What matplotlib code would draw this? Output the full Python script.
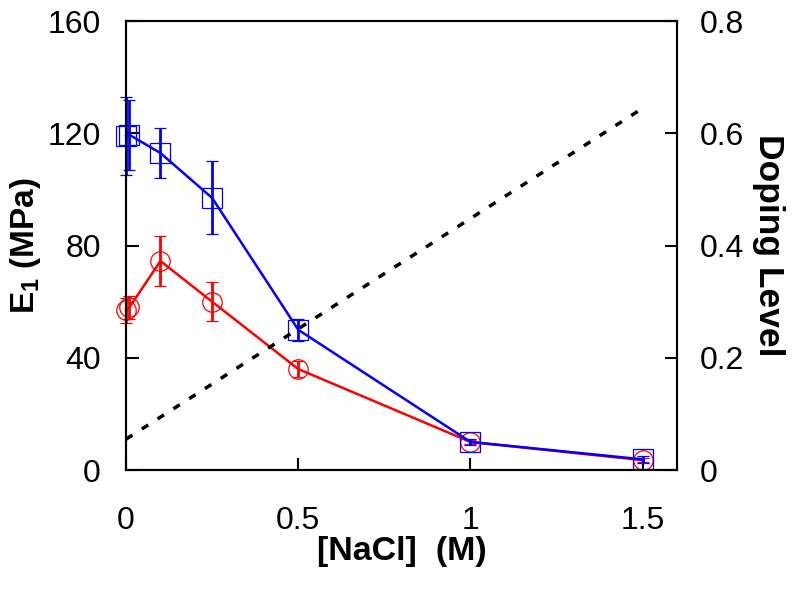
import matplotlib
matplotlib.use("Agg")
import matplotlib.pyplot as plt
import numpy as np

plt.rcParams['font.family'] = ['Liberation Sans', 'DejaVu Sans']
plt.rcParams['mathtext.default'] = 'regular'

# modulus data (MPa) vs NaCl concentration (M)
nacl = [0.0, 0.01, 0.1, 0.25, 0.5, 1.0, 1.5]
e1_blue = [119, 119.5, 113, 97, 50, 10, 3.8]
e1_blue_err = [14, 12.5, 9, 13, 4, 1.2, 1.2]
e1_red = [57, 58, 74.5, 60, 36, 10, 3.5]
e1_red_err = [4.5, 4, 9, 7, 3, 0.8, 0.8]

# doping level (right axis)
doping_x = [0.0, 1.5]
doping = [0.055, 0.645]

fig = plt.figure(figsize=(8, 5.89), dpi=100)
ax = fig.add_axes([0.1575, 0.202, 0.689, 0.762])

ax.errorbar(nacl, e1_blue, yerr=e1_blue_err, color='blue', lw=1.8, elinewidth=2,
            capsize=4.5, capthick=2, marker='s', ms=14, mfc='none', mec='blue', mew=0.9,
            clip_on=False, zorder=3)
ax.errorbar(nacl, e1_red, yerr=e1_red_err, color='red', lw=1.8, elinewidth=2,
            capsize=4.5, capthick=2, marker='o', ms=14, mfc='none', mec='red', mew=0.9,
            clip_on=False, zorder=2)

ax.set_xlim(0, 1.6)
ax.set_ylim(0, 160)
ax.set_xticks([0, 0.5, 1, 1.5])
ax.set_xticklabels(['0', '0.5', '1', '1.5'])
ax.set_yticks([0, 40, 80, 120, 160])
ax.tick_params(direction='in', length=9, width=1.5, labelsize=23, top=False, right=False)
ax.tick_params(axis='y', pad=18)
ax.tick_params(axis='x', pad=26)
for s in ax.spines.values():
    s.set_linewidth(1.5)

ax.set_xlabel('[NaCl]  (M)', fontsize=24.5, fontweight='bold', labelpad=0)
ax.set_ylabel('E$_1$ (MPa)', fontsize=24, fontweight='bold', labelpad=3)

ax2 = ax.twinx()
ax2.plot(doping_x, doping, color='black', lw=2.5, linestyle=(0, (2.2, 3.2)))
ax2.set_ylim(0, 0.8)
ax2.set_yticks([0, 0.2, 0.4, 0.6, 0.8])
ax2.set_yticklabels(['0', '0.2', '0.4', '0.6', '0.8'])
ax2.tick_params(direction='in', length=9, width=1.5, labelsize=23, pad=16)
ax2.set_ylabel('Doping Level', fontsize=25.5, fontweight='bold', rotation=270, labelpad=30)
for s in ax2.spines.values():
    s.set_linewidth(1.5)

fig.savefig('out.png', dpi=100)
